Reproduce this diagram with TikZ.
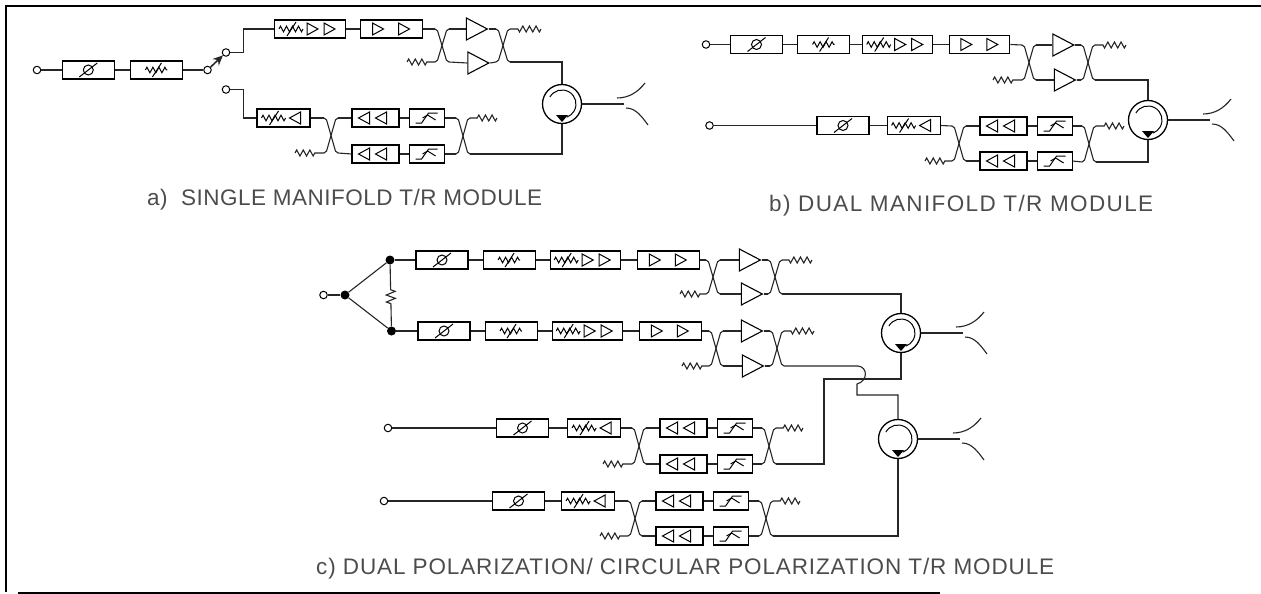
\documentclass[tikz,border=0pt]{standalone}
\usepackage{fontspec}
\setmainfont{Liberation Sans}
\usetikzlibrary{shapes.geometric,arrows.meta,positioning,decorations.pathmorphing}

% symbols drawn inside the chain boxes, around the box centre
\newcommand{\phasemark}{%
  \draw (0,0) circle (5pt);
  \draw (-9,7) -- (9,-7);}
\newcommand{\wavemark}[2]{%
  \draw[decorate, decoration={zigzag, segment length=6pt, amplitude=2.8pt}] (#1-#2,0) -- (#1+#2,0);
  \draw (#1-4,7) -- (#1+5,-7);}
\newcommand{\fwdtri}[1]{\draw (#1,-6) -- (#1+11,0) -- (#1,6) -- cycle;}
\newcommand{\revtri}[1]{\draw (#1,-6) -- (#1-11,0) -- (#1,6) -- cycle;}
\newcommand{\stepmark}{%
  \draw (-11,5) -- (-5,5) -- (2,-5) -- (11,-5);
  \draw (-4,0) -- (1,-3) -- (9,2);}

% X of a coupler: #1 name, #2 x of the crossing, #3 upper y, #4 lower y
\newcommand{\coupler}[4]{%
  \coordinate (#1a) at (#2-7,#3);
  \coordinate (#1b) at (#2+7,#3);
  \coordinate (#1c) at (#2-7,#4);
  \coordinate (#1d) at (#2+7,#4);
  \draw[wire, rounded corners=2pt] (#1a) -- (#2-5,#3) -- (#2+5,#4) -- (#1d);
  \draw[wire, rounded corners=2pt] (#1c) -- (#2-5,#4) -- (#2+5,#3) -- (#1b);}

\begin{document}
\begin{tikzpicture}[
    x=1pt, y=-1pt,
    wire/.style={line width=1.1pt, black!85},
    res/.style={wire, decorate, decoration={zigzag, segment length=6.6pt, amplitude=3pt, post length=6pt}},
    port/.style={circle, draw, line width=1pt, fill=white, minimum size=7.5pt, inner sep=0pt},
    junction/.style={circle, fill=black, minimum size=9pt, inner sep=0pt},
    chainbox/.style={rectangle, draw, line width=1.1pt, minimum height=18pt, inner sep=0pt},
    inbox/.style={shift={(path picture bounding box.center)}, line width=1pt},
    phasebox/.style={chainbox, minimum width=52pt,
        path picture={\begin{scope}[inbox]\phasemark\end{scope}}},
    attbox/.style={chainbox, minimum width=52pt,
        path picture={\begin{scope}[inbox]\wavemark{0}{11}\end{scope}}},
    gainbox/.style={chainbox, minimum width=70pt,
        path picture={\begin{scope}[inbox]\wavemark{-19}{12}\fwdtri{-3}\fwdtri{14}\end{scope}}},
    drivebox/.style={chainbox, minimum width=62pt,
        path picture={\begin{scope}[inbox]\fwdtri{-19}\fwdtri{7}\end{scope}}},
    rxattbox/.style={chainbox, minimum width=53pt,
        path picture={\begin{scope}[inbox]\wavemark{-10}{12}\revtri{17}\end{scope}}},
    lnabox/.style={chainbox, minimum width=47pt,
        path picture={\begin{scope}[inbox]\revtri{-6}\revtri{11}\end{scope}}},
    filtbox/.style={chainbox, minimum width=35pt,
        path picture={\begin{scope}[inbox]\stepmark\end{scope}}},
    amp/.style={isosceles triangle, isosceles triangle stretches, draw, line width=1.1pt, fill=white,
        minimum width=22pt, minimum height=21pt, inner sep=0pt},
    circulator/.style={circle, draw, line width=1.3pt, minimum size=39pt, inner sep=0pt,
        path picture={\begin{scope}[shift={(path picture bounding box.center)}]
            \draw[line width=1pt] (-150:14) arc[start angle=-150, end angle=70, radius=14];
            \fill (-6,11) -- (6,11) -- (0,18) -- cycle;
            \end{scope}}},
    caption/.style={text=black!70, inner sep=0pt, anchor=base west}
  ]

  % panel frame
  \useasboundingbox (0,0) rectangle (1261,594);
  \coordinate (framea) at (1261,6);
  \coordinate (frameb) at (6,6);
  \coordinate (framec) at (6,592);
  \coordinate (framed) at (18,593);
  \coordinate (framee) at (940,593);
  \draw[line width=1.2pt] (framea) -- (frameb) -- (framec);
  \draw[line width=1.2pt] (framed) -- (framee);

  % a) single manifold
  \node[port] (aport) at (37,70) {};
  \node[phasebox, right=20.5pt of aport] (aphase) {};
  \node[attbox, right=15pt of aphase] (aatt) {};
  \node[port] (aswa) at (207.5,70) {};
  \node[port] (aswb) at (226,52.5) {};
  \node[port] (aswc) at (226,89.5) {};
  \node[gainbox, minimum width=71pt] (again) at (310,29) {};
  \node[drivebox] (adrive) at (391.5,29) {};
  \node[rxattbox] (aatr) at (283.5,118) {};
  \node[lnabox] (alnaa) at (375.5,118) {};
  \node[filtbox, right=9pt of alnaa] (afilta) {};
  \node[lnabox] (alnab) at (375.5,154) {};
  \node[filtbox, right=9pt of alnab] (afiltb) {};
  \node[amp] (aampa) at (473,29) {};
  \node[amp] (aampb) at (474.5,63) {};
  \node[circulator] (acirc) at (562,104) {};
  \coupler{ata}{442}{29}{62}
  \coupler{atb}{503}{29}{62}
  \coupler{ara}{331}{118}{153}
  \coupler{arb}{463}{118}{154}
  \coordinate (aloada) at (407,62);
  \coordinate (aloadb) at (541,29);
  \coordinate (aloadc) at (295,153);
  \coordinate (aloadd) at (497,118);
  \draw[wire] (aport) -- (aphase);
  \draw[wire] (aphase) -- (aatt);
  \draw[wire] (aatt) -- (aswa);
  \draw[wire, line width=1.5pt, -{Stealth[length=10pt, width=9pt]}] (aswa) -- (aswb);
  \draw[wire] (aswb.east) -| ++(13,-12) |- (again.west);
  \draw[wire] (aswc.east) -| ++(13,12) |- (aatr.west);

  % b) dual manifold
  \node[port] (bport) at (706,44.5) {};
  \node[phasebox] (bphase) at (756.5,44.5) {};
  \node[attbox, right=14pt of bphase] (batt) {};
  \node[gainbox, right=12pt of batt] (bgain) {};
  \node[drivebox, minimum width=60pt, right=16pt of bgain] (bdrive) {};
  \node[port] (bportr) at (709.5,125.5) {};
  \node[phasebox] (bphaser) at (843,125.5) {};
  \node[rxattbox, right=17pt of bphaser] (batr) {};
  \node[lnabox] (blnaa) at (1003.5,126) {};
  \node[filtbox, right=9pt of blnaa] (bfilta) {};
  \node[lnabox] (blnab) at (1003.5,161) {};
  \node[filtbox, right=9pt of blnab] (bfiltb) {};
  \node[amp] (bampa) at (1059.5,45) {};
  \node[amp] (bampb) at (1061,80) {};
  \node[circulator] (bcirc) at (1148,120) {};
  \coupler{bta}{1029}{45}{80}
  \coupler{btb}{1088}{45}{80}
  \coupler{bra}{959}{126}{161}
  \coupler{brb}{1089}{126}{162}
  \coordinate (bloada) at (993,80);
  \coordinate (bloadb) at (1126,45);
  \coordinate (bloadc) at (925,161);
  \coordinate (bloadd) at (1124,126);
  \draw[wire] (bport) -- (bphase);
  \draw[wire] (bphase) -- (batt);
  \draw[wire] (batt) -- (bgain);
  \draw[wire] (bportr) -- (bphaser);
  \draw[wire] (bphaser) -- (batr);

  % c) dual polarization, two transmit chains
  \node[port] (eport) at (323.5,295) {};
  \node[junction] (ejoin) at (345,295) {};
  \node[junction] (ejoina) at (390,260) {};
  \node[junction] (ejoinb) at (391.5,331) {};
  \node[phasebox] (ephase) at (442,260) {};
  \node[attbox, right=14pt of ephase] (eatt) {};
  \node[gainbox, right=14pt of eatt] (egain) {};
  \node[drivebox, right=16pt of egain] (edrive) {};
  \node[amp] (eampa) at (746,260) {};
  \node[amp] (eampb) at (748,294) {};
  \coupler{eta}{713}{260}{294}
  \coupler{etb}{775}{260}{294}
  \coordinate (eloada) at (680,294);
  \coordinate (eloadb) at (812,260);
  \node[phasebox] (fphase) at (444,331) {};
  \node[attbox, right=14pt of fphase] (fatt) {};
  \node[gainbox, right=14pt of fatt] (fgain) {};
  \node[drivebox, right=16pt of fgain] (fdrive) {};
  \node[amp] (fampa) at (748,331) {};
  \node[amp] (fampb) at (749,366) {};
  \coupler{fta}{716}{331}{366}
  \coupler{ftb}{777}{331}{366}
  \coordinate (floada) at (682,366);
  \coordinate (floadb) at (814,331);
  \draw[wire] (eport) -- (ejoin);
  \draw[wire] (ejoin) -- (ejoina);
  \draw[wire] (ejoin) -- (ejoinb);
  \draw[res, decoration={pre length=25pt, post length=22pt, segment length=7pt, amplitude=4.5pt}] (ejoina) -- (ejoinb);
  \draw[wire] (ejoina) -- (ephase);
  \draw[wire] (ejoinb) -- (fphase);
  \draw[wire] (ephase) -- (eatt);
  \draw[wire] (eatt) -- (egain);
  \draw[wire] (fphase) -- (fatt);
  \draw[wire] (fatt) -- (fgain);

  % c) two receive chains
  \node[port] (cport) at (388,428) {};
  \node[phasebox] (cphase) at (522.5,428) {};
  \node[rxattbox, right=18pt of cphase] (catr) {};
  \node[lnabox] (clnaa) at (683.5,428) {};
  \node[filtbox, right=9pt of clnaa] (cfilta) {};
  \node[lnabox] (clnab) at (683.5,464) {};
  \node[filtbox, right=9pt of clnab] (cfiltb) {};
  \coupler{cra}{639}{428}{464}
  \coupler{crb}{769}{428}{464}
  \coordinate (cloadc) at (603,464);
  \coordinate (cloadd) at (803,428);
  \node[port] (dport) at (384,501) {};
  \node[phasebox] (dphase) at (518.5,501) {};
  \node[rxattbox, right=16pt of dphase] (datr) {};
  \node[lnabox] (dlnaa) at (679.5,501) {};
  \node[filtbox, right=9pt of dlnaa] (dfilta) {};
  \node[lnabox] (dlnab) at (679.5,536) {};
  \node[filtbox, right=9pt of dlnab] (dfiltb) {};
  \coupler{dra}{635}{501}{536}
  \coupler{drb}{766}{501}{536}
  \coordinate (dloadc) at (600,536);
  \coordinate (dloadd) at (800,501);
  \draw[wire] (cport) -- (cphase);
  \draw[wire] (cphase) -- (catr);
  \draw[wire] (dport) -- (dphase);
  \draw[wire] (dphase) -- (datr);

  % c) circulators with the hop between the two feeds
  \node[circulator] (ccirc) at (901,333) {};
  \node[circulator] (dcirc) at (898,439) {};
  \coordinate (ccross) at (824,379);
  \coordinate (hopa) at (858,366);
  \coordinate (hopb) at (868,367);
  \coordinate (hopc) at (868,381);
  \coordinate (hopd) at (857,384);
  \coordinate (hope) at (857,395);
  \draw[wire] (etbd) -| (ccirc.north);
  \draw[wire] (ccirc.south) |- (ccross) |- (crbd);
  \draw[wire] (ftbd) -- (hopa) .. controls (hopb) and (hopc) .. (hopd) -- (hope) -| (dcirc.north);
  \draw[wire] (drbd) -| (dcirc.south);
  \draw[wire] (atbd) -| (acirc.north);
  \draw[wire] (arbd) -| (acirc.south);
  \draw[wire] (btbd) -| (bcirc.north);
  \draw[wire] (brbd) -| (bcirc.south);

  % repeated runs of the transmit and receive chains
  \foreach \m in {a,b,e,f} {
    \draw[wire] (\m gain) -- (\m drive);
    \draw[wire] (\m drive.east) -- (\m taa);
    \draw[wire] (\m tab) -- (\m ampa.lower side);
    \draw[wire] (\m tad) -- (\m ampb.lower side);
    \draw[wire] (\m ampa.apex) -- (\m tba);
    \draw[wire] (\m ampb.apex) -- (\m tbc);
    \draw[res] (\m loada) -- (\m tac);
    \draw[res] (\m loadb) -- (\m tbb);
  }
  \foreach \m in {a,b,c,d} {
    \draw[wire] (\m atr.east) -- (\m raa);
    \draw[wire] (\m rab) -- (\m lnaa.west);
    \draw[wire] (\m rad) -- (\m lnab.west);
    \draw[wire] (\m lnaa) -- (\m filta);
    \draw[wire] (\m lnab) -- (\m filtb);
    \draw[wire] (\m filta.east) -- (\m rba);
    \draw[wire] (\m filtb.east) -- (\m rbc);
    \draw[res] (\m loadc) -- (\m rac);
    \draw[res] (\m loadd) -- (\m rbb);
    \path (\m circ.center) ++(62,0) coordinate (\m horn)
      ++(-7,-6) coordinate (\m horna) ++(28,-15) coordinate (\m hornb)
      ++(-19,25) coordinate (\m hornc) ++(22,17) coordinate (\m hornd);
    \draw[wire] (\m circ.east) -- (\m horn);
    \draw[wire] (\m horna) .. controls +(12,0) and +(-7,9) .. (\m hornb);
    \draw[wire] (\m hornc) .. controls +(10,0) and +(-6,-8) .. (\m hornd);
  }

  \node[caption, font=\fontsize{22.5}{24}\selectfont\addfontfeatures{LetterSpace=2.2}] (capa) at (147,205) {a)\ \ SINGLE MANIFOLD T/R MODULE};
  \node[caption, font=\fontsize{22.5}{24}\selectfont\addfontfeatures{LetterSpace=6.1}] (capb) at (769,211) {b) DUAL MANIFOLD T/R MODULE};
  \node[caption, font=\fontsize{22.5}{24}\selectfont\addfontfeatures{LetterSpace=3.9}] (capc) at (316,574) {c) DUAL POLARIZATION/ CIRCULAR POLARIZATION T/R MODULE};
\end{tikzpicture}
\end{document}
